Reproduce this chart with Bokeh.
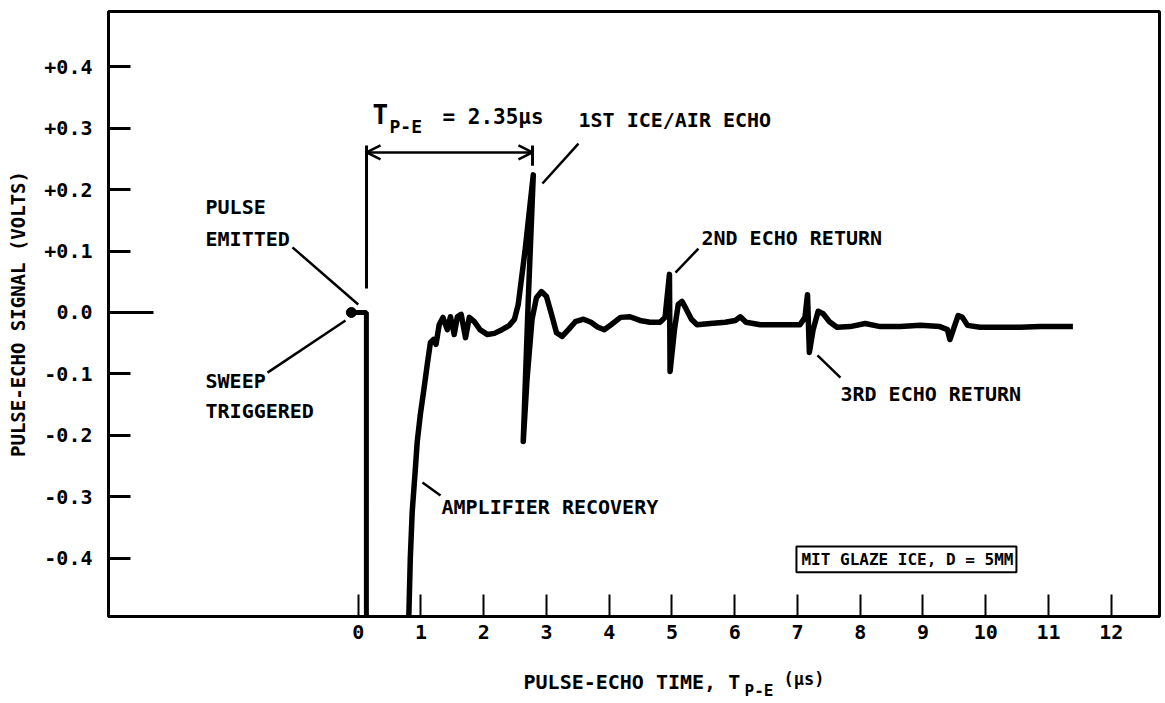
from bokeh.plotting import figure
from bokeh.layouts import column
from bokeh.models import Range1d, FixedTicker, Label, Arrow, OpenHead, BoxAnnotation
from bokeh.embed import file_html
from bokeh.resources import INLINE

# ---------------- data ----------------
# y-axis ticks (volts) and labels
Y_TICKS = [-0.4, -0.3, -0.2, -0.1, 0.0, 0.1, 0.2, 0.3, 0.4]
Y_LABELS = ["-0.4", "-0.3", "-0.2", "-0.1", "0.0", "+0.1", "+0.2", "+0.3", "+0.4"]
# x-axis ticks (microseconds)
X_TICKS = [0, 1, 2, 3, 4, 5, 6, 7, 8, 9, 10, 11, 12]

# pulse emitted / sweep triggered trace
PULSE_T = [-0.11, 0.13, 0.13]
PULSE_V = [0.0, 0.0, -0.52]

# recovered pulse-echo trace
TRACE_T = [0.80, 0.83, 0.86, 0.91, 0.94, 0.99, 1.04, 1.10, 1.15, 1.20, 1.24, 1.29,
           1.35, 1.42, 1.47, 1.53, 1.58, 1.64, 1.71, 1.77, 1.85, 1.94, 2.06, 2.17,
           2.29, 2.41, 2.49, 2.55, 2.66, 2.79, 2.71, 2.63, 2.69, 2.77, 2.84, 2.92,
           3.00, 3.08, 3.16, 3.25, 3.35, 3.46, 3.59, 3.71, 3.82, 3.92, 4.03, 4.18,
           4.33, 4.49, 4.65, 4.81, 4.89, 4.96, 4.97, 5.04, 5.10, 5.16, 5.23, 5.31,
           5.40, 5.61, 5.85, 6.01, 6.09, 6.18, 6.41, 6.73, 7.04, 7.12, 7.16, 7.19,
           7.25, 7.33, 7.41, 7.51, 7.63, 7.84, 8.08, 8.32, 8.64, 8.96, 9.27, 9.39,
           9.43, 9.50, 9.56, 9.63, 9.71, 9.91, 10.23, 10.55, 10.87, 11.39]
TRACE_V = [-0.52, -0.400, -0.325, -0.255, -0.211, -0.166, -0.130, -0.085, -0.049,
           -0.044, -0.052, -0.020, -0.008, -0.028, -0.007, -0.036, -0.007, -0.003,
           -0.041, -0.008, -0.015, -0.028, -0.036, -0.034, -0.028, -0.021, -0.011,
           0.013, 0.102, 0.224, 0.021, -0.210, -0.109, -0.011, 0.024, 0.034, 0.026,
           -0.003, -0.033, -0.039, -0.028, -0.015, -0.011, -0.016, -0.024, -0.028,
           -0.020, -0.008, -0.007, -0.013, -0.016, -0.016, -0.008, 0.062, -0.096,
           -0.028, 0.013, 0.018, 0.005, -0.011, -0.020, -0.018, -0.016, -0.013,
           -0.007, -0.016, -0.020, -0.020, -0.020, -0.008, 0.029, -0.065, -0.028,
           0.002, -0.002, -0.015, -0.024, -0.023, -0.018, -0.023, -0.023, -0.021,
           -0.023, -0.028, -0.044, -0.023, -0.005, -0.008, -0.021, -0.024, -0.024,
           -0.024, -0.023, -0.023]

FONT = "DejaVu Sans Mono"
W = 1161

p = figure(width=W, height=655,
           x_range=Range1d(-3.98, 12.77), y_range=Range1d(-0.495, 0.49),
           output_backend="svg", toolbar_location=None,
           min_border_left=108, min_border_right=2, min_border_top=11, min_border_bottom=39)

p.grid.visible = False
p.outline_line_color = "black"
p.outline_line_width = 3
p.background_fill_color = "white"
p.border_fill_color = "white"

# axes
for ax in (p.xaxis[0], p.yaxis[0]):
    ax.axis_line_width = 3
    ax.axis_line_color = "black"
    ax.major_tick_in = 22
    ax.major_tick_out = 0
    ax.minor_tick_line_color = None
    ax.major_label_text_font = FONT
    ax.major_label_text_font_size = "20px"
    ax.major_label_text_font_style = "bold"
    ax.major_label_text_color = "black"

p.yaxis.ticker = FixedTicker(ticks=Y_TICKS)
p.yaxis.major_label_overrides = {t: l for t, l in zip(Y_TICKS, Y_LABELS)}
p.yaxis.major_tick_line_width = 3
p.yaxis.major_label_standoff = 16
p.yaxis.axis_label = "PULSE-ECHO SIGNAL (VOLTS)"
p.yaxis.axis_label_text_font = FONT
p.yaxis.axis_label_text_font_size = "19px"
p.yaxis.axis_label_text_font_style = "bold"
p.yaxis.axis_label_text_color = "black"
p.yaxis.axis_label_standoff = 12

p.xaxis.ticker = FixedTicker(ticks=X_TICKS)
p.xaxis.major_tick_line_width = 2
p.xaxis.major_label_standoff = 8

# longer tick at 0.0
p.segment(x0=[-3.98], y0=[0.0], x1=[-3.263], y1=[0.0], line_color="black", line_width=3)

# signal traces
p.line(PULSE_T, PULSE_V, line_color="black", line_width=5)
p.scatter([PULSE_T[0]], [PULSE_V[0]], size=10, color="black")
p.line(TRACE_T, TRACE_V, line_color="black", line_width=5.5, line_join="round")

# leader lines
lead_x0 = [-1.048, -1.446, 1.024, 2.936, 5.056, 7.319]
lead_y0 = [0.106, -0.098, -0.277, 0.210, 0.065, -0.070]
lead_x1 = [0.000, -0.203, 1.311, 3.510, 5.422, 7.685]
lead_y1 = [0.013, -0.013, -0.298, 0.275, 0.104, -0.106]
p.segment(x0=lead_x0, y0=lead_y0, x1=lead_x1, y1=lead_y1, line_color="black", line_width=2.5)

# T(P-E) bracket
p.segment(x0=[0.132, 2.777], y0=[0.039, 0.272], x1=[0.132, 2.777], y1=[0.272, 0.239],
          line_color="black", line_width=3)
p.add_layout(Arrow(start=OpenHead(size=14, line_width=2.5), end=OpenHead(size=14, line_width=2.5),
                   x_start=0.132, y_start=0.2605, x_end=2.777, y_end=0.2605,
                   line_width=2.5, line_color="black"))

# sample box
p.add_layout(BoxAnnotation(left=6.984, right=10.490, top=-0.381, bottom=-0.423,
                           fill_alpha=0, line_color="black", line_width=2, line_alpha=1))


def lab(fig, x, y, text, size="20px"):
    fig.add_layout(Label(x=x, y=y, text=text, text_font=FONT, text_font_size=size,
                         text_font_style="bold", text_color="black",
                         text_align="left", text_baseline="middle"))


lab(p, -2.434, 0.171, "PULSE")
lab(p, -2.434, 0.120, "EMITTED")
lab(p, -2.434, -0.111, "SWEEP")
lab(p, -2.434, -0.160, "TRIGGERED")
lab(p, 1.327, -0.316, "AMPLIFIER RECOVERY")
lab(p, 0.227, 0.321, "T", size="26px")
lab(p, 0.498, 0.302, "P-E", size="18px")
lab(p, 1.343, 0.319, "= 2.35μs", size="21px")
lab(p, 3.510, 0.313, "1ST ICE/AIR ECHO")
lab(p, 5.470, 0.122, "2ND ECHO RETURN")
lab(p, 7.685, -0.132, "3RD ECHO RETURN")
lab(p, 7.064, -0.402, "MIT GLAZE ICE, D = 5MM", size="16px")

# x-axis title strip (shares the time scale of the main plot)
t = figure(width=W, height=45, x_range=p.x_range, y_range=Range1d(0, 1),
           output_backend="svg", toolbar_location=None,
           x_axis_type=None, y_axis_type=None,
           min_border_left=108, min_border_right=2, min_border_top=0, min_border_bottom=0)
t.grid.visible = False
t.outline_line_color = None
t.background_fill_color = "white"
t.border_fill_color = "white"
lab(t, 2.634, 0.42, "PULSE-ECHO TIME, T")
lab(t, 6.156, 0.23, "P-E", size="16px")
lab(t, 6.777, 0.47, "(μs)", size="17px")

layout = column(p, t, spacing=0)
open("out.html", "w").write(file_html(layout, INLINE))
